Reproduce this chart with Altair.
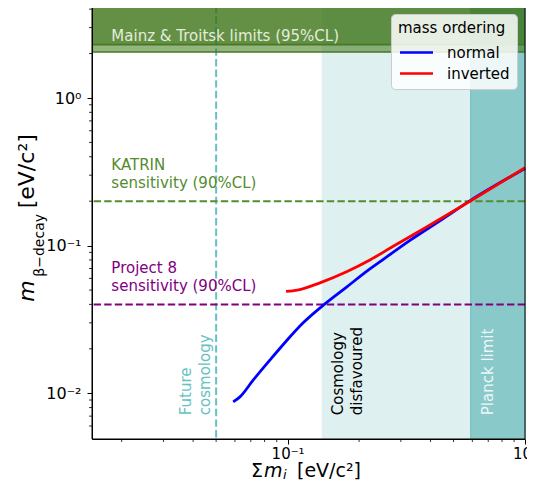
import altair as alt
import pandas as pd

# ---------------- data ----------------
X_DOMAIN = [0.015, 1.0]
Y_DOMAIN = [0.0049, 4.2]

X_TICKS = [0.1, 1.0]
X_TICK_LABELS = ["10⁻¹", "10⁰"]
Y_TICKS = [0.01, 0.1, 1.0]
Y_TICK_LABELS = ["10⁻²", "10⁻¹", "10⁰"]
X_MINOR = [0.02, 0.03, 0.04, 0.05, 0.06, 0.07, 0.08, 0.09,
           0.2, 0.3, 0.4, 0.5, 0.6, 0.7, 0.8, 0.9]
Y_MINOR = [0.006, 0.007, 0.008, 0.009,
           0.02, 0.03, 0.04, 0.05, 0.06, 0.07, 0.08, 0.09,
           0.2, 0.3, 0.4, 0.5, 0.6, 0.7, 0.8, 0.9, 2, 3, 4]

ORDER_NAMES = ["normal", "inverted"]
ORDER_COLORS = ["#0000ff", "#ff0000"]

NORMAL_SUM = [0.0590, 0.0630, 0.0716, 0.0842, 0.0990, 0.1163, 0.1436,
              0.1772, 0.2222, 0.2489, 0.3277, 0.4527, 0.5679, 1.0]
NORMAL_MB = [0.00874, 0.00945, 0.01227, 0.01677, 0.0227, 0.0300, 0.0403,
             0.0524, 0.0695, 0.0792, 0.1085, 0.1525, 0.1950, 0.3335]
INVERTED_SUM = [0.0985, 0.110, 0.1368, 0.1772, 0.2222, 0.2786, 0.3853, 0.5322, 0.5865, 1.0]
INVERTED_MB = [0.0490, 0.0500, 0.0560, 0.0666, 0.0800, 0.0990, 0.1340, 0.1820, 0.2000, 0.3370]

REGION_NAMES = ["Cosmology disfavoured", "Planck limit"]
REGION_START = [0.14, 0.59]
REGION_END = [0.59, 1.0]
REGION_ALPHA = [0.125, 0.46]

MAINZ_TROITSK = [2.05, 2.3]

SENS_NAMES = ["KATRIN", "Project 8"]
SENS_VALUES = [0.2, 0.04]
SENS_COLORS = ["#548c30", "#800080"]

FUTURE_COSMO = [0.05]
FUTURE_COLOR = "#66c2c2"

H_TEXT = ["Mainz & Troitsk limits (95%CL)", "KATRIN", "sensitivity (90%CL)",
          "Project 8", "sensitivity (90%CL)"]
H_TEXT_X = [0.0181, 0.0181, 0.0181, 0.0181, 0.0181]
H_TEXT_Y = [2.45, 0.3237, 0.2463, 0.0648, 0.0493]
H_TEXT_COLOR = ["#e3ecda", "#548c30", "#548c30", "#800080", "#800080"]

V_TEXT = ["Future", "cosmology", "Cosmology", "disfavoured", "Planck limit"]
V_TEXT_X = [0.0393, 0.0471, 0.1718, 0.2056, 0.7332]
V_TEXT_Y = [0.0071, 0.0071, 0.0071, 0.0071, 0.0071]
V_TEXT_COLOR = [FUTURE_COLOR, FUTURE_COLOR, "#000000", "#000000", "#eef7f7"]

# ---------------- layout ----------------
W, H = 433, 433
FONT = "DejaVu Sans"
DASH = [7.4, 3.2]


def label_expr(ticks, labels):
    parts = [f"abs(datum.value - {t}) < {t * 1e-3} ? '{lab}'" for t, lab in zip(ticks, labels)]
    return " : ".join(parts) + " : ''"


xs = alt.Scale(type="log", domain=X_DOMAIN, nice=False)
ys = alt.Scale(type="log", domain=Y_DOMAIN, nice=False)

XAX = alt.Axis(values=X_TICKS, labelExpr=label_expr(X_TICKS, X_TICK_LABELS), title=None,
               grid=False, tickSize=5, tickColor="black", domainColor="black",
               labelColor="black", labelFontSize=15, labelPadding=2, labelFlush=False,
               labelOverlap=False, zindex=1)
YAX = alt.Axis(values=Y_TICKS, labelExpr=label_expr(Y_TICKS, Y_TICK_LABELS), title=None,
               grid=False, tickSize=5, tickColor="black", domainColor="black",
               labelColor="black", labelFontSize=16, labelPadding=6, labelFlush=False,
               labelOverlap=False, zindex=1)


def X(field):
    return alt.X(field, type="quantitative", scale=xs, axis=XAX)


def Y(field):
    return alt.Y(field, type="quantitative", scale=ys, axis=YAX)


layers = []

# shaded cosmology regions
regions = pd.DataFrame({"name": REGION_NAMES, "start": REGION_START, "end": REGION_END,
                        "y0": Y_DOMAIN[0], "y1": Y_DOMAIN[1], "alpha": REGION_ALPHA})
layers.append(alt.Chart(regions).mark_rect(color="#008b8b", stroke="#008b8b", strokeWidth=1).encode(
    x=X("start"), x2="end", y=Y("y0"), y2="y1",
    opacity=alt.Opacity("alpha:Q", scale=None)))

# future cosmology line
layers.append(alt.Chart(pd.DataFrame({"v": FUTURE_COSMO})).mark_rule(
    color=FUTURE_COLOR, strokeWidth=2, strokeDash=DASH).encode(x=X("v")))

# sensitivity lines
for val, col in zip(SENS_VALUES, SENS_COLORS):
    layers.append(alt.Chart(pd.DataFrame({"v": [val]})).mark_rule(
        color=col, strokeWidth=2, strokeDash=DASH).encode(y=Y("v")))

# Mainz & Troitsk band
band = pd.DataFrame({"lo": MAINZ_TROITSK, "hi": Y_DOMAIN[1], "x0": X_DOMAIN[0], "x1": X_DOMAIN[1]})
layers.append(alt.Chart(band).mark_rect(color="#36700f", opacity=0.52).encode(
    x=X("x0"), x2="x1", y=Y("lo"), y2="hi"))
layers.append(alt.Chart(band).mark_rule(color="#467a1e", strokeWidth=1.6).encode(y=Y("lo")))

# curves
curves = pd.DataFrame({
    "sum": NORMAL_SUM + INVERTED_SUM,
    "mb": NORMAL_MB + INVERTED_MB,
    "ordering": [ORDER_NAMES[0]] * len(NORMAL_SUM) + [ORDER_NAMES[1]] * len(INVERTED_SUM),
})
legend = alt.Legend(title="mass ordering", orient="top-right", offset=8, padding=7,
                    fillColor="rgba(255,255,255,0.85)", strokeColor="#cccccc", cornerRadius=4,
                    titleFontSize=15, titleFontWeight="normal", titleColor="black",
                    titleFont=FONT, labelFont=FONT,
                    labelFontSize=15, labelColor="black", symbolType="M-1.5,0L1.5,0",
                    symbolSize=484, symbolStrokeWidth=2.5, symbolOffset=6, labelOffset=18,
                    rowPadding=0, titlePadding=4)
layers.append(alt.Chart(curves).mark_line(strokeWidth=2.8, interpolate="monotone").encode(
    x=X("sum"), y=Y("mb"),
    color=alt.Color("ordering:N", scale=alt.Scale(domain=ORDER_NAMES, range=ORDER_COLORS),
                    legend=legend),
    order=alt.Order("sum:Q")))

# horizontal annotations
htext = pd.DataFrame({"t": H_TEXT, "x": H_TEXT_X, "y": H_TEXT_Y, "c": H_TEXT_COLOR})
for col in dict.fromkeys(H_TEXT_COLOR):
    sub = htext[htext["c"] == col]
    layers.append(alt.Chart(sub).mark_text(align="left", baseline="alphabetic", fontSize=15,
                                           font=FONT, color=col).encode(
        x=X("x"), y=Y("y"), text="t:N"))

# vertical annotations
vtext = pd.DataFrame({"t": V_TEXT, "x": V_TEXT_X, "y": V_TEXT_Y, "c": V_TEXT_COLOR})
for col in dict.fromkeys(V_TEXT_COLOR):
    sub = vtext[vtext["c"] == col]
    layers.append(alt.Chart(sub).mark_text(align="left", baseline="alphabetic", fontSize=15,
                                           font=FONT, angle=270, color=col).encode(
        x=X("x"), y=Y("y"), text="t:N"))

# minor ticks
layers.append(alt.Chart(pd.DataFrame({"v": X_MINOR})).mark_rule(color="black", strokeWidth=0.8).encode(
    x=X("v"), y=alt.value(H), y2=alt.value(H + 3)))
layers.append(alt.Chart(pd.DataFrame({"v": Y_MINOR})).mark_rule(color="black", strokeWidth=0.8).encode(
    y=Y("v"), x=alt.value(0), x2=alt.value(-3)))

# frame
layers.append(alt.Chart(pd.DataFrame({"f": [0]})).mark_rect(
    filled=False, stroke="black", strokeWidth=1).encode(
    x=alt.value(0), x2=alt.value(W), y=alt.value(0), y2=alt.value(H)))

# axis titles built from pieces (italic m, subscripts)
XT_BASE = 471
TITLE_PIECES = [
    # text, x, y, size, style, angle
    ("m", -58, 295.7, 22, "italic", 270),
    ("β−decay", -48, 270.7, 14, "normal", 270),
    ("[eV/c²]", -58, 202.3, 22, "normal", 270),
    ("Σ", 159, XT_BASE, 19, "normal", 0),
    ("m", 172, XT_BASE, 19, "italic", 0),
    ("i", 191, XT_BASE + 2, 13, "italic", 0),
    ("[eV/c²]", 205, XT_BASE, 19, "normal", 0),
]
for txt, px, py, size, style, ang in TITLE_PIECES:
    layers.append(alt.Chart(pd.DataFrame({"t": [txt]})).mark_text(
        align="left", baseline="alphabetic", fontSize=size, fontStyle=style, font=FONT,
        angle=ang, color="black").encode(x=alt.value(px), y=alt.value(py), text="t:N"))

chart = alt.layer(*layers).properties(
    width=W, height=H,
    autosize=alt.AutoSizeParams(type="none"),
    padding={"left": 84, "top": -2, "right": 2, "bottom": 43},
).configure_view(stroke=None).configure(font=FONT)

chart.save("out.html", embed_options={"renderer": "svg", "actions": False})
